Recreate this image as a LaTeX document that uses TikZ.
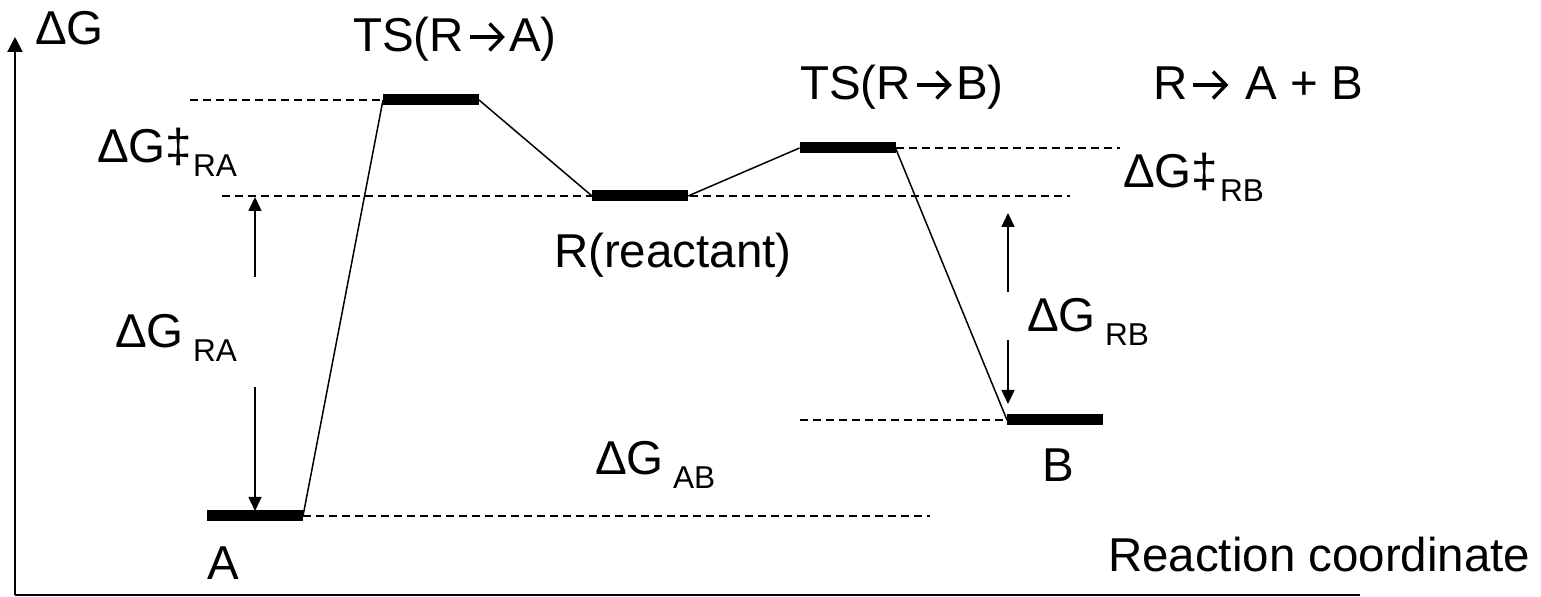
\documentclass[tikz,border=0pt]{standalone}
\usepackage{fontspec}
\setmainfont{Liberation Sans}
\usetikzlibrary{arrows.meta}
\newcommand\subt[1]{\raisebox{-7pt}{\fontsize{15.8}{18}\selectfont #1}}
\newcommand\chevarrow{\hspace{2pt}\tikz[baseline=0pt,x=1pt,y=1pt,line width=1.7pt,line cap=butt,line join=miter]{\draw (0,7.5)--(16.5,7.5); \draw (10,0.8)--(16.5,7.5)--(10,14.2);}\hspace{2.5pt}}
\tikzset{
  lvl/.style={draw=none,fill=black,rectangle,minimum width=48pt,minimum height=5.5pt,inner sep=0pt,outer sep=0pt},
  lbl/.style={anchor=base west,inner sep=0pt,outer sep=0pt},
  conn/.style={line width=0.75pt},
  guide/.style={line width=0.7pt,dash pattern=on 4pt off 2.5pt},
  axis/.style={line width=1pt},
  marrow/.style={line width=0.75pt,-{Triangle[length=7pt,width=6.5pt]}},
}
\begin{document}
\begin{tikzpicture}[x=0.5pt,y=-0.5pt,font=\fontsize{23.75}{28}\selectfont]
\useasboundingbox (0,0) rectangle (1541,597);
% axes
\coordinate (O) at (15,595);
\coordinate (Ytop) at (15,37);
\coordinate (Xend) at (1360,595);
\draw[axis,-{Triangle[length=7.5pt,width=7.5pt]}] (O) -- (Ytop);
\draw[axis] (O) -- (Xend);
% levels
\node[lvl] (A) at (255,516) {};
\node[lvl] (TSA) at (431,100) {};
\node[lvl] (R) at (640,196) {};
\node[lvl] (TSB) at (847.5,148) {};
\node[lvl] (B) at (1055,420) {};
% guide line ends
\coordinate (gTSA) at (190,100);
\coordinate (gRl) at (222,196);
\coordinate (gRr) at (1070,196);
\coordinate (gTSB) at (1120,148);
\coordinate (gB) at (800,420);
\coordinate (gA) at (930,516);
\draw[guide] (gTSA) -- (TSA.west);
\draw[guide] (gRl) -- (gRr);
\draw[guide] (TSB.east) -- (gTSB);
\draw[guide] (gB) -- (B.west);
\draw[guide] (A.east) -- (gA);
% profile
\draw[conn] (A.east) -- (TSA.west);
\draw[conn] (TSA.east) -- (R.west);
\draw[conn] (R.east) -- (TSB.west);
\draw[conn] (TSB.east) -- (B.west);
% measuring arrows
\coordinate (raT1) at (255,277);
\coordinate (raT2) at (255,197);
\coordinate (raB1) at (255,387);
\coordinate (raB2) at (255,511);
\draw[marrow] (raT1) -- (raT2);
\draw[marrow] (raB1) -- (raB2);
\coordinate (rbT1) at (1008,292);
\coordinate (rbT2) at (1008,213);
\coordinate (rbB1) at (1008,340);
\coordinate (rbB2) at (1008,404);
\draw[marrow] (rbT1) -- (rbT2);
\draw[marrow] (rbB1) -- (rbB2);
% labels
\node[lbl] (lG) at (35,45) {ΔG};
\node[lbl] (lTSA) at (353,52) {TS(R\chevarrow A)};
\node[lbl] (lTSB) at (800,100) {TS(R\chevarrow B)};
\node[lbl] (lrx) at (1153,100) {R\chevarrow\ A + B};
\node[lbl] (ldGdRA) at (97,163) {ΔG‡\hspace{0.5pt}\subt{RA}};
\node[lbl] (ldGdRB) at (1123,188) {ΔG‡\hspace{1pt}\subt{RB}};
\node[lbl] (lR) at (554,268) {R(reactant)};
\node[lbl] (ldGRA) at (115,348) {ΔG\hspace{4.7pt}\subt{RA}};
\node[lbl] (ldGRB) at (1027,332) {ΔG\hspace{4.7pt}\subt{RB}};
\node[lbl] (ldGAB) at (595,475) {ΔG\hspace{4.7pt}\subt{AB}};
\node[lbl] (lB) at (1042,482) {B};
\node[lbl] (lA) at (207,580) {A};
\node[lbl] (lRC) at (1108,572) {Reaction coordinate};
\end{tikzpicture}
\end{document}
